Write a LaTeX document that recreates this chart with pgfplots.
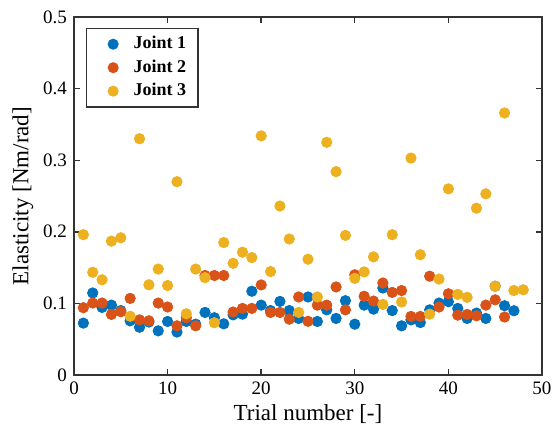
\documentclass[border=0pt]{standalone}
\usepackage{fontspec}
\setmainfont{Liberation Serif}
\usepackage{pgfplots}
\pgfplotsset{compat=1.18}
\definecolor{mB}{rgb}{0,0.447,0.741}
\definecolor{mR}{rgb}{0.850,0.325,0.098}
\definecolor{mY}{rgb}{0.929,0.694,0.125}
\begin{document}
\begin{tikzpicture}
\useasboundingbox (-37pt,-30.5pt) rectangle (241pt,187.5pt);
\begin{axis}[
  at={(0,0)}, anchor=south west,
  scale only axis, width=234pt, height=179pt,
  xmin=0, xmax=50, ymin=0, ymax=0.5,
  xtick={0,10,...,50}, ytick={0,0.1,0.2,0.3,0.4,0.5},
  yticklabels={0,0.1,0.2,0.3,0.4,0.5},
  tick align=inside, major tick length=3pt,
  axis line style={black!80, line width=0.7pt},
  every tick/.style={black!80, line width=0.7pt},
  /pgf/number format/assume math mode=true,
  tick label style={font=\fontsize{9.5}{11}\selectfont},
  xlabel={Trial number [-]}, ylabel={Elasticity [Nm/rad]},
  label style={font=\fontsize{11.5}{13}\selectfont},
  xlabel style={yshift=2pt},
  ylabel style={yshift=-2pt},
  legend style={at={(0.025,0.97)}, anchor=north west, draw=black!80, line width=0.7pt,
    font=\bfseries\fontsize{9}{10}\selectfont, row sep=0pt, inner xsep=4pt, inner ysep=2pt},
  legend cell align=left,
  legend image code/.code={\path[draw=none,fill=none] (0,0) -- (0.62cm,0); \fill[#1] (0.33cm,0) circle[radius=2.4pt];},
]
\addplot[only marks, mark=*, mark size=2.6pt, mB, mark options={draw=mB, fill=mB}] coordinates {
(1,0.0725) (2,0.1146) (3,0.0944) (4,0.0976) (5,0.090) (6,0.0757) (7,0.0667) (8,0.074)
(9,0.0617) (10,0.0748) (11,0.060) (12,0.0748) (13,0.071) (14,0.0874) (15,0.080) (16,0.0715)
(17,0.084) (18,0.085) (19,0.117) (20,0.0976) (21,0.090) (22,0.1028) (23,0.090) (24,0.079)
(25,0.109) (26,0.0748) (27,0.091) (28,0.079) (29,0.1038) (30,0.071) (31,0.0976) (32,0.092)
(33,0.1215) (34,0.090) (35,0.0687) (36,0.077) (37,0.0733) (38,0.091) (39,0.1005) (40,0.1024)
(41,0.093) (42,0.079) (43,0.0865) (44,0.079) (45,0.124) (46,0.0968) (47,0.0897)
};
\addlegendentry{Joint 1}
\addplot[only marks, mark=*, mark size=2.6pt, mR, mark options={draw=mR, fill=mR}] coordinates {
(1,0.094) (2,0.1005) (3,0.1005) (4,0.0846) (5,0.0884) (6,0.107) (7,0.077) (8,0.0757)
(9,0.1005) (10,0.095) (11,0.0687) (12,0.080) (13,0.0687) (14,0.139) (15,0.139) (16,0.139)
(17,0.088) (18,0.093) (19,0.093) (20,0.1258) (21,0.0874) (22,0.0874) (23,0.078) (24,0.109)
(25,0.075) (26,0.0976) (27,0.0976) (28,0.123) (29,0.091) (30,0.140) (31,0.110) (32,0.1033)
(33,0.1285) (34,0.1154) (35,0.118) (36,0.0818) (37,0.0818) (38,0.138) (39,0.095) (40,0.1135)
(41,0.0836) (42,0.0846) (43,0.0827) (44,0.0976) (45,0.105) (46,0.081)
};
\addlegendentry{Joint 2}
\addplot[only marks, mark=*, mark size=2.6pt, mY, mark options={draw=mY, fill=mY}] coordinates {
(1,0.196) (2,0.1435) (3,0.133) (4,0.187) (5,0.1917) (6,0.082) (7,0.330) (8,0.126)
(9,0.148) (10,0.125) (11,0.270) (12,0.0855) (13,0.148) (14,0.136) (15,0.073) (16,0.185)
(17,0.156) (18,0.1715) (19,0.164) (20,0.334) (21,0.1445) (22,0.236) (23,0.190) (24,0.0874)
(25,0.1617) (26,0.109) (27,0.325) (28,0.284) (29,0.195) (30,0.135) (31,0.144) (32,0.165)
(33,0.0986) (34,0.196) (35,0.102) (36,0.303) (37,0.168) (38,0.085) (39,0.134) (40,0.260)
(41,0.1126) (42,0.1085) (43,0.233) (44,0.253) (45,0.124) (46,0.366) (47,0.118) (48,0.119)
};
\addlegendentry{Joint 3}
\end{axis}
\end{tikzpicture}
\end{document}
